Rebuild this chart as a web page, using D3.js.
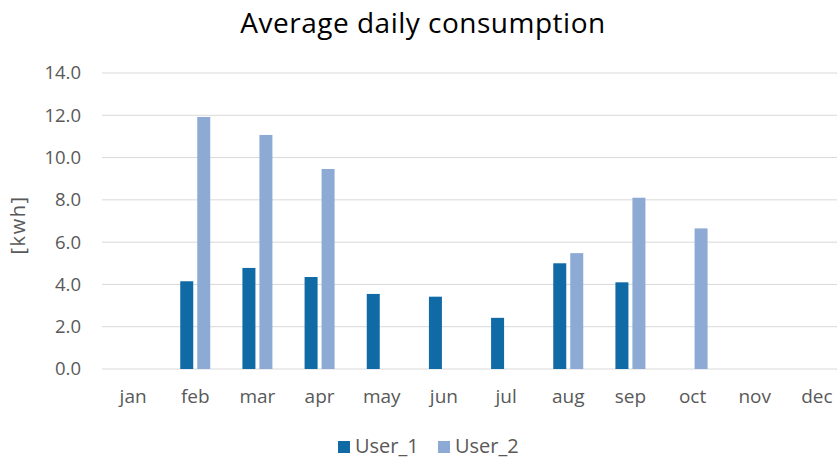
<!DOCTYPE html>
<html>
<head>
<meta charset="utf-8">
<script src="https://cdn.jsdelivr.net/npm/d3@7"></script>
<style>
  body { margin: 0; background: #fff; }
  text { font-family: "Open Sans", "Liberation Sans", sans-serif; fill: #595959; }
</style>
</head>
<body>
<div id="chart"></div>
<script>
// data
var months = ["jan", "feb", "mar", "apr", "may", "jun", "jul", "aug", "sep", "oct", "nov", "dec"];
var user1 = [null, 4.15, 4.78, 4.35, 3.55, 3.42, 2.42, 5.0, 4.1, null, null, null];
var user2 = [null, 11.92, 11.07, 9.46, null, null, null, 5.48, 8.1, 6.65, null, null];
var seriesNames = ["User_1", "User_2"];
var yTicks = [0, 2, 4, 6, 8, 10, 12, 14];

var colors = ["#0f6aa5", "#8caad3"];

var W = 837, H = 460;
var margin = { top: 73, right: 0, bottom: 91, left: 102 };
var width = W - margin.left - margin.right;
var height = H - margin.top - margin.bottom;

var svg = d3.select("#chart").append("svg")
    .attr("width", W)
    .attr("height", H);

var g = svg.append("g")
    .attr("transform", "translate(" + margin.left + "," + margin.top + ")");

// scales (the plot runs a bit past the right edge of the picture)
var x = d3.scaleBand().domain(months).range([0, 746]).paddingInner(0).paddingOuter(0);
var y = d3.scaleLinear().domain([0, 14]).range([height, 0]);
var barW = 13, gap = 4;

// gridlines
g.selectAll(".grid").data(yTicks).enter().append("line")
    .attr("x1", 0).attr("x2", width)
    .attr("y1", function(d) { return y(d); })
    .attr("y2", function(d) { return y(d); })
    .attr("stroke", "#d9d9d9")
    .attr("stroke-width", 1);

// y axis labels
var axisY = d3.axisLeft(y).tickValues(yTicks).tickFormat(d3.format(".1f")).tickSize(0).tickPadding(21);
g.append("g").call(axisY)
    .call(function(s) { s.select(".domain").remove(); })
    .selectAll("text")
    .style("font-size", "18.5px")
    .attr("fill", "#595959");

// x axis labels
var axisX = d3.axisBottom(x).tickSize(0).tickPadding(21);
g.append("g").attr("transform", "translate(0," + height + ")").call(axisX)
    .call(function(s) { s.select(".domain").remove(); })
    .selectAll("text")
    .style("font-size", "19px")
    .attr("fill", "#595959");

// bars
[user1, user2].forEach(function(vals, si) {
  g.append("g").selectAll("rect")
    .data(months.map(function(m, i) { return { m: m, v: vals[i] }; }).filter(function(d) { return d.v != null; }))
    .enter().append("rect")
    .attr("x", function(d) {
      var c = x(d.m) + x.bandwidth() / 2;
      return si === 0 ? c - gap / 2 - barW : c + gap / 2;
    })
    .attr("width", barW)
    .attr("y", function(d) { return y(d.v); })
    .attr("height", function(d) { return height - y(d.v); })
    .attr("fill", colors[si]);
});

// title
svg.append("text")
    .attr("x", 423).attr("y", 33)
    .attr("text-anchor", "middle")
    .style("font-size", "28px")
    .style("letter-spacing", "0.5px")
    .style("fill", "#000")
    .text("Average daily consumption");

// y label
svg.append("text")
    .attr("transform", "translate(25,225) rotate(-90)")
    .attr("text-anchor", "middle")
    .style("font-size", "20px")
    .style("letter-spacing", "1.5px")
    .text("[kwh]");

// legend
var legend = svg.append("g").attr("transform", "translate(338,453)");
var lx = [0, 100];
seriesNames.forEach(function(name, i) {
  legend.append("rect")
    .attr("x", lx[i]).attr("y", -12)
    .attr("width", 12).attr("height", 12)
    .attr("fill", colors[i]);
  legend.append("text")
    .attr("x", lx[i] + 17).attr("y", 0)
    .style("font-size", "20px")
    .text(name);
});
</script>
</body>
</html>
